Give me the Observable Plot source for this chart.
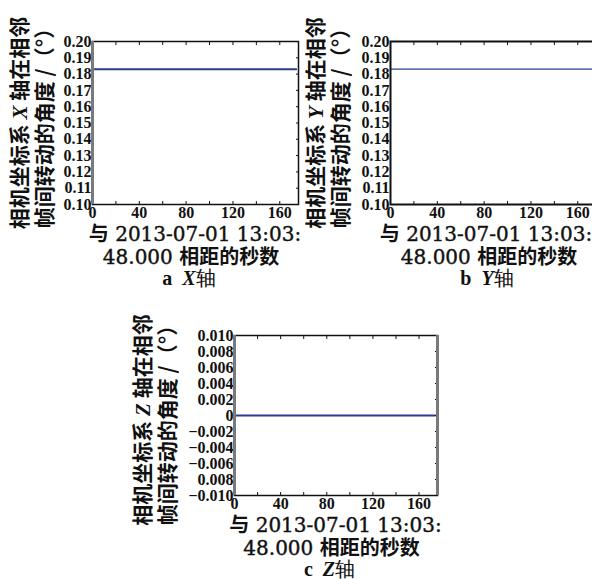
<!DOCTYPE html>
<html>
<head>
<meta charset="utf-8">
<script src="https://cdn.jsdelivr.net/npm/d3@7"></script>
<script src="https://cdn.jsdelivr.net/npm/@observablehq/plot@0.6"></script>
<style>
  html, body { margin: 0; padding: 0; background: #fff; }
  #root { position: relative; width: 592px; height: 579px; overflow: hidden; background: #fff; }
  #root svg { position: absolute; }
  #root svg text { font-family: "Liberation Serif", serif; font-size: 16px; font-weight: bold; fill: #111; }
  .lbl { position: absolute; white-space: nowrap; color: #111; text-align: center; line-height: 1; }
  .ylab { font-family: "Noto Sans CJK SC", sans-serif; font-size: 21px; line-height: 23px; font-weight: 600; transform: translate(-50%, -50%) rotate(-90deg); }
  .xlab { font-family: "DejaVu Serif", "Noto Sans CJK SC", serif; font-size: 20px; -webkit-text-stroke: 0.4px #111; transform: translate(-50%, -50%); }
  .xlab .cjk, .ylab .cjk { font-family: "Noto Sans CJK SC", sans-serif; font-weight: 600; -webkit-text-stroke: 0; }
  .it { font-family: "Liberation Serif", serif; font-style: italic; font-weight: bold; }
  .cap { font-family: "Liberation Serif", serif; font-weight: bold; font-size: 20px; transform: translate(-50%, -50%); }
</style>
</head>
<body>
<div id="root"></div>
<script>
// ---- data ----
const seconds = [0, 174];
const xAxisAngles = [0.183, 0.183];
const yAxisAngles = [0.183, 0.183];
const zAxisAngles = [0, 0];

const xMajorTicks = [0, 40, 80, 120, 160];
const xMinorTicks = [0, 20, 40, 60, 80, 100, 120, 140, 160];
const xDomain = [0, 176];

const abTicks = [0.10, 0.11, 0.12, 0.13, 0.14, 0.15, 0.16, 0.17, 0.18, 0.19, 0.20];
const abTickLabels = ["0.10", "0.11", "0.12", "0.13", "0.14", "0.15", "0.16", "0.17", "0.18", "0.19", "0.20"];
const zTicks = [-0.010, -0.008, -0.006, -0.004, -0.002, 0, 0.002, 0.004, 0.006, 0.008, 0.010];
const zTickLabels = ["\u22120.010", "0.008", "\u22120.006", "\u22120.004", "\u22120.002", "0", "0.002", "0.004", "0.006", "0.008", "0.010"];

const yLabelLine1 = ["相机坐标系 ", " 轴在相邻"];
const yLabelLine2 = "帧间转动的角度 /（°）";
const xLabelLine1 = "与 2013-07-01 13:03:";
const xLabelLine2 = ["48.000 ", "相距的秒数"];
const axisNames = ["X", "Y", "Z"];
const panelLetters = ["a", "b", "c"];

const root = document.getElementById("root");

function panel(o) {
  const data = seconds.map((s, i) => ({ s, v: o.values[i] }));
  const fmt = d => {
    const i = o.ticks.findIndex(t => Math.abs(t - d) < 1e-9);
    return i >= 0 ? o.labels[i] : "";
  };
  const marks = [
    Plot.line(data, { x: "s", y: "v", stroke: "#2c3d8c", strokeWidth: o.lineWidth }),
    Plot.frame({ stroke: "#111", strokeWidth: o.frameWidth }),
    Plot.axisX({ anchor: "bottom", ticks: xMajorTicks, tickSize: 0, tickPadding: 2, tickFormat: d => String(d), label: null }),
    Plot.axisX({ anchor: "bottom", ticks: xMinorTicks, tickSize: -3, tickFormat: () => "", label: null }),
    Plot.axisX({ anchor: "top", ticks: xMinorTicks, tickSize: -3, tickFormat: () => "", label: null }),
    Plot.axisY({ anchor: "left", ticks: o.ticks, tickSize: 0, tickPadding: 1, tickFormat: fmt, label: null }),
    Plot.axisY({ anchor: "right", ticks: o.ticks, tickSize: -3, tickFormat: () => "", label: null })
  ];
  if (o.greyLeft) marks.push(Plot.ruleX([0], { stroke: "#7a7a7a", strokeWidth: 3 }));
  if (o.greyRight) marks.push(Plot.ruleX([xDomain[1]], { stroke: "#7a7a7a", strokeWidth: 3 }));
  const chart = Plot.plot({
    width: o.width, height: o.height,
    marginLeft: o.ml, marginRight: o.mr, marginTop: o.mt, marginBottom: o.mb,
    x: { domain: xDomain },
    y: { domain: o.domain },
    style: { background: "transparent", color: "#111", overflow: "visible" },
    marks
  });
  chart.style.left = o.left + "px";
  chart.style.top = o.top + "px";
  root.appendChild(chart);

  const fl = o.left + o.ml, fr = o.left + o.width - o.mr;
  const ft = o.top + o.mt, fb = o.top + o.height - o.mb;
  const cx = (fl + fr) / 2;

  const yl = document.createElement("div");
  yl.className = "lbl ylab";
  yl.innerHTML = `<span>${yLabelLine1[0]}</span><span class="it">${axisNames[o.k]}</span><span>${yLabelLine1[1]}</span><br><span>${yLabelLine2}</span>`;
  yl.style.left = (fl + o.ylOff) + "px";
  yl.style.top = ((ft + fb) / 2 + o.ylDy) + "px";
  root.appendChild(yl);

  const x1 = document.createElement("div");
  x1.className = "lbl xlab";
  x1.innerHTML = `<span class="cjk">${xLabelLine1.slice(0, 1)}</span>${xLabelLine1.slice(1)}`;
  x1.style.left = (cx + o.xlDx) + "px"; x1.style.top = (fb + 29) + "px";
  root.appendChild(x1);

  const x2 = document.createElement("div");
  x2.className = "lbl xlab";
  x2.innerHTML = `${xLabelLine2[0]}<span class="cjk">${xLabelLine2[1]}</span>`;
  x2.style.left = (cx - 4) + "px"; x2.style.top = (fb + 52) + "px";
  root.appendChild(x2);

  const cp = document.createElement("div");
  cp.className = "lbl cap";
  cp.innerHTML = `${panelLetters[o.k]}&nbsp; <span class="it">${axisNames[o.k]}</span><span class="cjk" style="font-weight:normal">轴</span>`;
  cp.style.left = (cx - 6) + "px"; cp.style.top = (fb + 74) + "px";
  root.appendChild(cp);
}

panel({ k: 0, left: 0, top: 0, width: 300, height: 225, ml: 92, mr: 2, mt: 41, mb: 21,
  values: xAxisAngles, domain: [0.10, 0.20], ticks: abTicks, labels: abTickLabels,
  lineWidth: 2, frameWidth: 1.5, greyLeft: true, ylOff: -61, ylDy: 0, xlDx: 0 });
panel({ k: 1, left: 300, top: 0, width: 300, height: 225, ml: 90, mr: 4, mt: 41, mb: 21,
  values: yAxisAngles, domain: [0.10, 0.20], ticks: abTicks, labels: abTickLabels,
  lineWidth: 1.2, frameWidth: 2, greyLeft: false, ylOff: -63, ylDy: 0, xlDx: -7 });
panel({ k: 2, left: 140, top: 300, width: 300, height: 216, ml: 94, mr: 3, mt: 35, mb: 21,
  values: zAxisAngles, domain: [-0.010, 0.010], ticks: zTicks, labels: zTickLabels,
  lineWidth: 2, frameWidth: 1.5, greyLeft: true, greyRight: true, ylOff: -80, ylDy: 5, xlDx: 0 });
</script>
</body>
</html>
